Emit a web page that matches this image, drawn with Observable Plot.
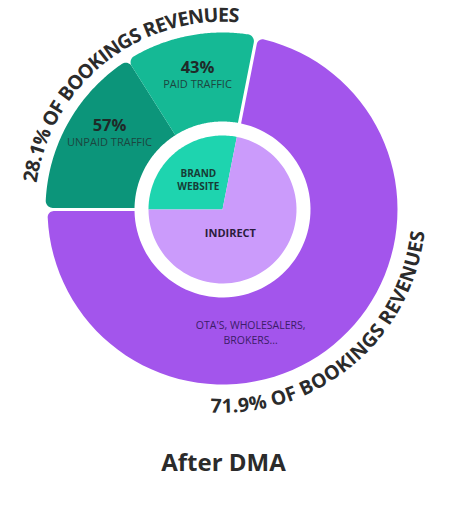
<!DOCTYPE html>
<html><head><meta charset="utf-8">
<script src="https://cdn.jsdelivr.net/npm/d3@7"></script>
<script src="https://cdn.jsdelivr.net/npm/@observablehq/plot@0.6"></script>
<style>
body{margin:0;background:#fff;width:465px;height:506px;overflow:hidden;position:relative;font-family:"Open Sans",sans-serif}
#chart{position:absolute;left:0;top:0}
#title{position:absolute;left:-9px;width:465px;top:447px;text-align:center;font:700 24px "Open Sans",sans-serif;color:#2b2b2b;line-height:30px}
</style></head><body>
<div id="chart"></div><div id="title"></div>
<script>
// ---- data ----
const title = "After DMA";
const channels = [["BRAND", "WEBSITE"], ["INDIRECT"]];
const channelShares = [28.1, 71.9];
const brandLabels = ["UNPAID TRAFFIC", "PAID TRAFFIC"];
const brandShares = [57, 43];
const indirectLabel = ["OTA'S, WHOLESALERS,", "BROKERS..."];
const revenueSuffix = " OF BOOKINGS REVENUES";

// ---- styles ----
const purple = "#a355ec", lavender = "#cb9bfb";
const brandGreens = ["#0c957a", "#15b995"];
const mint = "#1ed4af";
const dark = "#2b2b2b";
const FAM = "'Open Sans', sans-serif";

const W = 465, H = 432, CX = 222, CY = 209;
const rad = d => d * Math.PI / 180, deg = r => r * 180 / Math.PI;
const polar = (th, r) => [r * Math.sin(th), -r * Math.cos(th)];
const th = p => Math.atan2(p[0], -p[1]);

function sector(a0, a1, r0, r1, pad0, pad1, c, n = 80) {
  const u0 = [Math.sin(a0), -Math.cos(a0)], n0 = [Math.cos(a0), Math.sin(a0)];
  const u1 = [Math.sin(a1), -Math.cos(a1)], n1 = [-Math.cos(a1), -Math.sin(a1)];
  const onLine = (u, nn, t, p) => [t * u[0] + p * nn[0], t * u[1] + p * nn[1]];
  function fillet(u, nn, pad, reverse) {
    if (c <= 0) { const t = Math.sqrt(r1 * r1 - pad * pad); return [onLine(u, nn, t, pad)]; }
    const t = Math.sqrt((r1 - c) ** 2 - (pad + c) ** 2);
    const C = onLine(u, nn, t, pad + c), T1 = onLine(u, nn, t, pad);
    const k = r1 / (r1 - c), T2 = [C[0] * k, C[1] * k];
    const p1 = Math.atan2(T1[1] - C[1], T1[0] - C[0]);
    let d = Math.atan2(T2[1] - C[1], T2[0] - C[0]) - p1;
    while (d > Math.PI) d -= 2 * Math.PI; while (d < -Math.PI) d += 2 * Math.PI;
    const arr = [];
    for (let i = 0; i <= 10; i++) { const p = p1 + d * i / 10; arr.push([C[0] + c * Math.cos(p), C[1] + c * Math.sin(p)]); }
    return reverse ? arr.reverse() : arr;
  }
  const pts = [];
  if (r0 > 0) pts.push(onLine(u0, n0, Math.sqrt(r0 * r0 - pad0 * pad0), pad0)); else pts.push([0, 0]);
  const f0 = fillet(u0, n0, pad0, false), f1 = fillet(u1, n1, pad1, true);
  pts.push(...f0);
  const b0 = th(f0[f0.length - 1]); let b1 = th(f1[0]);
  while (b1 < b0) b1 += 2 * Math.PI;
  for (let i = 1; i < n; i++) pts.push(polar(b0 + (b1 - b0) * i / n, r1));
  pts.push(...f1);
  if (r0 > 0) {
    const e = onLine(u1, n1, Math.sqrt(r0 * r0 - pad1 * pad1), pad1); pts.push(e);
    const s0 = th(pts[0]); let e0 = th(e); while (e0 < s0) e0 += 2 * Math.PI;
    for (let i = 1; i < n; i++) pts.push(polar(e0 - (e0 - s0) * i / n, r0));
  }
  return pts;
}

// angles (clockwise from top); brand slice starts at 9 o'clock
const start = rad(-90);
const total = d3.sum(channelShares);
const chAngles = []; { let a = start; channelShares.forEach(s => { const b = a + s / total * 2 * Math.PI; chAngles.push([a, b]); a = b; }); }
const [bA0, bA1] = chAngles[0];
const brAngles = []; { let a = bA0; const bt = d3.sum(brandShares); brandShares.forEach(s => { const b = a + s / bt * (bA1 - bA0); brAngles.push([a, b]); a = b; }); }

const XY = {x: d => d[0], y: d => d[1], stroke: "none", curve: "linear-closed"};
const marks = [];
// outer ring
marks.push(Plot.line(sector(chAngles[1][0], chAngles[1][1], 88, 175, 1.6, 1.6, 6), {...XY, fill: purple}));
brAngles.forEach(([a, b], i) => marks.push(Plot.line(
  sector(a, b, 88, 177, i === 0 ? 1.6 : 0, i === 0 ? 0 : 1.6, 7), {...XY, fill: brandGreens[i]})));
// inner pie
[mint, lavender].forEach((col, i) => marks.push(Plot.line(sector(chAngles[i][0], chAngles[i][1], 0, 74, 0, 0, 0), {...XY, fill: col})));

// labels inside
const mid = ([a, b]) => (a + b) / 2;
const lab = [];
function lines(arr, x, y, lh, fs, fw, col) {
  arr.forEach((t, k) => lab.push({x, y: y + (k - (arr.length - 1) / 2) * lh, t, fs, fw, col}));
}
brAngles.forEach((ang, i) => {
  const nudge = i === 0 ? rad(5) : 0;
  const [x, y] = polar(mid(ang) + nudge, 136);
  lab.push({x, y: y - 8.5, t: brandShares[i] + "%", fs: 16.5, fw: 700, col: "#1f2a28"});
  lab.push({x, y: y + 8.5, t: brandLabels[i], fs: 11, fw: 400, col: "#1c4640"});
});
{ const [x, y] = polar(mid(chAngles[0]), 38); lines(channels[0], x, y, 13.5, 10, 700, "#173c36"); }
{ const [x, y] = polar(mid(chAngles[1]) + rad(21), 25); lines(channels[1], x, y, 12, 11, 700, "#2a1c3c"); }
{ const [x, y] = polar(mid(chAngles[1]) + rad(26.6), 127); lines(indirectLabel, x, y, 14.5, 10.5, 400, "#3c1c68"); }
[700, 400].forEach(fw => marks.push(Plot.text(lab.filter(d => d.fw === fw), {x: "x", y: "y", text: "t", fontSize: d => d.fs, fill: "col", fontWeight: fw, fontFamily: FAM, textAnchor: "middle", lineAnchor: "middle"})));

// curved labels
const ctx = document.createElement("canvas").getContext("2d");
function curved(text, midTh, r, fs, len, dir) {
  ctx.font = `700 ${fs}px ${FAM}`;
  const chars = [...text];
  const ws = chars.map(ch => ctx.measureText(ch).width);
  const sp = (len - d3.sum(ws)) / (chars.length - 1);
  let s = 0; const out = [];
  ws.forEach((w, i) => {
    const m = s + w / 2; s += w + sp;
    const t = midTh + dir * (m - len / 2) / r;
    const [x, y] = polar(t, r);
    out.push({x, y, ch: chars[i], rot: dir > 0 ? deg(t) : deg(t) - 180});
  });
  return out;
}
const arcTxt = [
  ...curved(channelShares[0] + "%" + revenueSuffix, mid(chAngles[0]) + rad(1), 194, 19.5, 294, 1),
  ...curved(channelShares[1] + "%" + revenueSuffix, mid(chAngles[1]) - rad(0.7), 197, 19.5, 300, -1)
];
marks.push(Plot.text(arcTxt, {x: "x", y: "y", text: "ch", rotate: "rot", fontSize: 19.5, fontWeight: 700, fontFamily: FAM, fill: dark, textAnchor: "middle", lineAnchor: "middle"}));

const chart = Plot.plot({
  width: W, height: H, margin: 0,
  x: {domain: [-CX, W - CX], range: [0, W], axis: null},
  y: {domain: [-CY, H - CY], range: [0, H], axis: null},
  style: {background: "#fff", overflow: "visible"},
  marks
});
document.getElementById("chart").append(chart);
document.getElementById("title").textContent = title;
</script>
</body></html>
